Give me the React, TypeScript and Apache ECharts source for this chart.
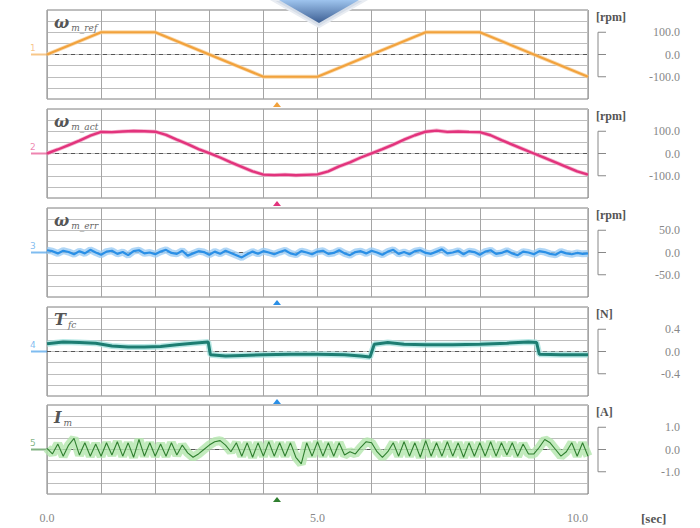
import React, { useEffect, useRef } from "react";
import * as echarts from "echarts";

// ---- data ----
const timeLabels = [0, 5, 10];

// reference speed [t (s), rpm]
const refSpeed = [
  [0, 0], [1, 100], [2, 100], [4, -100], [5, -100], [7, 100], [8, 100], [10, -100],
];

// actual speed [t (s), rpm]
const actSpeed = [
  [0, 0], [0.2, 18], [0.4, 38], [0.6, 58], [0.8, 80], [1.0, 97], [1.2, 96], [1.4, 99], [1.6, 101], [1.8, 100],
  [2.0, 98], [2.2, 84], [2.4, 62], [2.6, 42], [2.8, 20], [3.0, 2], [3.2, -18], [3.4, -40], [3.6, -60], [3.8, -80],
  [4.0, -95], [4.2, -97], [4.4, -95], [4.6, -98], [4.8, -96], [5.0, -94], [5.2, -80], [5.4, -58], [5.6, -40], [5.8, -18],
  [6.0, 1], [6.2, 20], [6.4, 40], [6.6, 62], [6.8, 82], [7.0, 98], [7.2, 103], [7.4, 97], [7.6, 99], [7.8, 97],
  [8.0, 96], [8.2, 82], [8.4, 60], [8.6, 40], [8.8, 20], [9.0, 0], [9.2, -20], [9.4, -40], [9.6, -60], [9.8, -80],
  [10, -95],
];

// speed error, rpm, sampled every 0.1 s
const speedErr = [
  5, 3, -2, 4, 1, -4, 3, -2, 6, 0,
  -5, 2, 4, -3, 1, -6, 3, 5, -2, 0,
  -4, 2, 6, -1, -3, 4, -7, -2, 3, 1,
  -5, 2, -3, 4, -1, -6, -11, -4, 2, -3,
  3, 0, -4, 1, 5, -2, -5, 3, 0, -4,
  2, 4, -3, -1, 5, -2, -6, 1, 3, -2,
  4, 0, -5, 2, 6, -3, 1, -4, 3, 5,
  -1, -3, 2, 7, -2, 0, 4, -4, 3, 1,
  -5, 2, 5, -3, -1, 4, -2, -6, 2, 0,
  -4, 3, 1, -3, -5, 2, -2, -4, -1, -3,
  -2,
];

// friction force [t (s), N]
const frictionForce = [
  [0, 0.14], [0.3, 0.17], [0.6, 0.16], [0.9, 0.15], [1.2, 0.1], [1.5, 0.08], [1.8, 0.08], [2.1, 0.09],
  [2.4, 0.12], [2.7, 0.15], [2.98, 0.17], [3.02, -0.06], [3.3, -0.08], [3.6, -0.07], [4.0, -0.06],
  [4.5, -0.05], [5.0, -0.05], [5.5, -0.06], [5.8, -0.08], [5.97, -0.1], [6.05, 0.13], [6.3, 0.16],
  [6.6, 0.13], [7.0, 0.12], [7.5, 0.12], [8.0, 0.13], [8.5, 0.15], [8.9, 0.17], [9.05, 0.16],
  [9.1, -0.05], [9.5, -0.06], [10, -0.06],
];

// motor current, A, sampled every 0.1 s
const motorCurrent = [
  0.05, -0.2, 0.25, -0.3, 0.2, 0.5, -0.25, 0.3, -0.3, 0.25,
  -0.3, 0.3, -0.25, 0.35, -0.3, 0.3, -0.35, 0.45, -0.3, 0.3,
  -0.3, 0.25, -0.3, 0.3, -0.25, 0.2, -0.15, -0.35, -0.2, 0.0,
  0.2, 0.35, 0.4, 0.2, -0.1, 0.3, -0.3, 0.3, -0.35, 0.3,
  -0.3, 0.35, -0.3, 0.3, -0.3, 0.3, -0.35, -0.65, 0.3, -0.3,
  0.35, -0.3, 0.3, -0.3, 0.3, -0.25, -0.1, -0.2, 0.1, 0.35,
  0.3, -0.1, -0.35, -0.1, 0.3, -0.3, 0.35, -0.3, 0.3, -0.35,
  0.4, -0.3, 0.3, -0.3, 0.35, -0.3, 0.3, -0.35, 0.3, -0.3,
  0.3, -0.3, 0.35, -0.3, 0.3, -0.25, 0.3, -0.3, 0.25, -0.2,
  -0.2, 0.1, 0.45, 0.3, 0.0, -0.3, -0.1, 0.3, -0.3, 0.3,
  -0.3,
];

const scaleLabels = [100, 100, 50, 0.4, 1.0];
const unitLabels = ["[rpm]", "[rpm]", "[rpm]", "[N]", "[A]"];
const titleSyms = ["ω", "ω", "ω", "T", "I"];
const titleSubs = ["m_ref", "m_act", "m_err", "fc", "m"];
const colors = ["#f2a23c", "#e2337c", "#2a8fe6", "#1d7d72", "#2f7f2f"];
const haloColors = ["#f8cf98", "#f1a0c2", "#9cccf4", "#a8e4e0", "#b3e6ac"];
const markerColors = ["#f2a23c", "#e2337c", "#2a8fe6", "#2a8fe6", "#2f7f2f"];

const sampled = (arr: number[]) => arr.map((v, i) => [(i * 10) / (arr.length - 1), v]);

const L = 47;
const R = 588;
const H = 89;
const tops = [10, 109, 208, 307, 405];

export default function App() {
  const ref = useRef<HTMLDivElement>(null);
  useEffect(() => {
    if (!ref.current) return;
    const chart = echarts.init(ref.current, null, { renderer: "svg" });
    const seriesData = [refSpeed, actSpeed, sampled(speedErr), frictionForce, sampled(motorCurrent)];
    const haloWidths = [4, 4, 7, 6, 9];
    const lineWidths = [2.2, 2.4, 2.2, 3, 1.1];

    const grids = tops.map((t) => ({
      left: L,
      top: t,
      width: R - L,
      height: H,
      show: true,
      backgroundColor: "#fff",
      borderColor: "#7e7e7e",
      borderWidth: 1,
    }));

    const xAxes = tops.map((_, i) => ({
      type: "value",
      gridIndex: i,
      min: 0,
      max: 10,
      interval: 1,
      offset: i === 4 ? 4 : 0,
      axisLine: { show: i === 4, lineStyle: { color: "#999" } },
      axisTick: { show: false },
      splitLine: { show: true, lineStyle: { color: "#a5a5a5", width: 1 } },
      axisLabel: {
        show: i === 4,
        margin: 14,
        color: "#888",
        fontFamily: "Liberation Serif",
        fontSize: 12,
        alignMinLabel: "center",
        alignMaxLabel: "right",
        formatter: (v: number) => (timeLabels.includes(Math.round(v * 1000) / 1000) ? v.toFixed(1) : ""),
      },
    }));

    const yAxes = scaleLabels.map((lab, i) => ({
      type: "value",
      gridIndex: i,
      position: "right",
      min: -2 * lab,
      max: 2 * lab,
      interval: lab / 2,
      axisLine: { show: false },
      axisTick: { show: false },
      splitLine: { show: true, lineStyle: { color: "#bdbdbd", width: 1 } },
      axisLabel: {
        show: true,
        align: "right",
        margin: 92,
        color: "#888",
        fontFamily: "Liberation Serif",
        fontSize: 12,
        formatter: (v: number) => {
          if (Math.abs(v) < 1e-9) return "0.0";
          if (Math.abs(Math.abs(v) - lab) < 1e-6) return v.toFixed(1);
          return "";
        },
      },
    }));

    const zeroLine = (i: number) => ({
      type: "line",
      xAxisIndex: i,
      yAxisIndex: i,
      data: [[0, 0], [10, 0]],
      showSymbol: false,
      silent: true,
      z: 1,
      lineStyle: { color: "#555", width: 1, type: [4, 4] },
    });

    const series: any[] = [];
    seriesData.forEach((d, i) => {
      series.push(zeroLine(i));
      series.push({
        type: "line",
        xAxisIndex: i,
        yAxisIndex: i,
        data: d,
        showSymbol: false,
        z: 2,
        lineStyle: { color: haloColors[i], width: haloWidths[i], opacity: 0.8 },
      });
      series.push({
        type: "line",
        xAxisIndex: i,
        yAxisIndex: i,
        data: d,
        showSymbol: false,
        z: 3,
        lineStyle: { color: colors[i], width: lineWidths[i] },
      });
    });

    const graphics: any[] = [];
    tops.forEach((t, i) => {
      const c = t + H / 2;
      const px = H / 4;
      graphics.push({
        type: "text",
        x: 54,
        y: t + 3,
        z: 50,
        style: {
          text: `{a|${titleSyms[i]}}{b|${titleSubs[i]}}`,
          rich: {
            a: { fontFamily: "DejaVu Serif", fontStyle: "italic", fontSize: 16, fill: "#555", fontWeight: "bold" },
            b: { fontFamily: "DejaVu Serif", fontStyle: "italic", fontSize: 9, fill: "#666", padding: [10, 0, 0, 2] },
          },
        },
      });
      graphics.push({
        type: "text",
        x: 596,
        y: t + 1,
        style: { text: unitLabels[i], font: "bold 12px 'Liberation Serif'", fill: "#555" },
      });
      graphics.push({ type: "line", shape: { x1: 598, y1: c - px, x2: 598, y2: c + px }, style: { stroke: "#888", lineWidth: 1 } });
      [c - px, c, c + px].forEach((yy) =>
        graphics.push({ type: "line", shape: { x1: 598, y1: yy, x2: 606, y2: yy }, style: { stroke: "#888", lineWidth: 1 } })
      );
      graphics.push({ type: "line", shape: { x1: 31, y1: c, x2: 47, y2: c }, style: { stroke: markerColors[i], lineWidth: 2, opacity: 0.6 } });
      graphics.push({
        type: "text",
        x: 30,
        y: c - 11,
        style: { text: String(i + 1), font: "9px 'DejaVu Sans'", fill: markerColors[i], opacity: 0.6 },
      });
      graphics.push({
        type: "polygon",
        shape: { points: [[273, t + H + 8], [281, t + H + 8], [277, t + H + 3]] },
        style: { fill: markerColors[i] },
      });
    });

    graphics.push({
      type: "text",
      x: 641,
      y: 512,
      style: { text: "[sec]", font: "bold 13px 'Liberation Serif'", fill: "#555" },
    });

    graphics.push({
      type: "polygon",
      z: 100,
      shape: { points: [[272, 0], [366, 0], [319, 27]] },
      style: { fill: "#d5dde8", stroke: "#e8ecf2", lineWidth: 2 },
    });
    graphics.push({
      type: "polygon",
      z: 101,
      shape: { points: [[279, 0], [359, 0], [319, 23]] },
      style: {
        fill: new echarts.graphic.LinearGradient(0, 0, 0, 1, [
          { offset: 0, color: "#9ec4ee" },
          { offset: 1, color: "#3d5f93" },
        ]),
      },
    });

    chart.setOption({
      animation: false,
      backgroundColor: "#fff",
      grid: grids,
      xAxis: xAxes,
      yAxis: yAxes,
      series,
      graphic: graphics,
    });
    return () => chart.dispose();
  }, []);

  return (
    <div
      ref={ref}
      style={{ position: "absolute", left: 0, top: 0, width: 700, height: 528, background: "#fff" }}
    />
  );
}
